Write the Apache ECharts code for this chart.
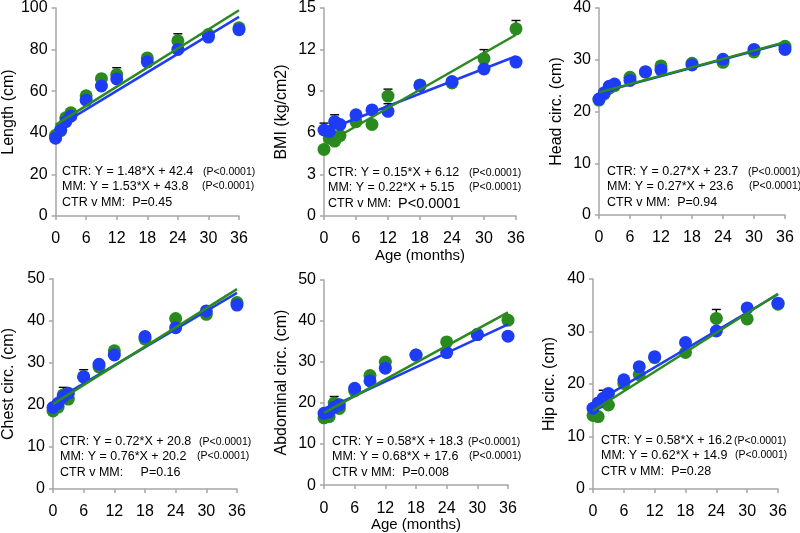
<!DOCTYPE html>
<html>
<head>
<meta charset="utf-8">
<script src="https://cdn.jsdelivr.net/npm/echarts@6/dist/echarts.min.js"></script>
<style>html,body{margin:0;padding:0;background:#fff}#main{width:800px;height:533px}</style>
</head>
<body>
<div id="main"></div>
<script>
var ages = [0, 1, 2, 3, 6, 9, 12, 18, 24, 30, 36];

// CTR = blue, MM = green
var lengthCtr = [37.4, 41.5, 45.3, 48.0, 55.7, 62.5, 65.9, 74.1, 80.1, 86.0, 89.6];
var lengthMm = [38.8, 41.0, 47.2, 49.6, 57.8, 66.0, 68.0, 76.0, 84.2, 87.2, 90.5];
var lengthCtrErr = [0.8, 0.8, 0.8, 0.8, 1, 1, 1.2, 1.2, 1.2, 1.4, 1.4];
var lengthMmErr = [0.8, 0.8, 0.8, 0.8, 1, 1.2, 3.3, 1.5, 3.4, 1.5, 1.5];
var lengthCtrFit = [[0, 42.4], [36, 95.7]];
var lengthMmFit = [[0, 43.8], [36, 98.9]];

var bmiCtr = [6.2, 6.1, 6.8, 6.6, 7.3, 7.65, 7.55, 9.4, 9.7, 10.6, 11.1];
var bmiMm = [4.8, 5.6, 5.4, 5.8, 6.8, 6.6, 8.65, 9.45, 9.6, 11.35, 13.5];
var bmiCtrErr = [0.5, 0.2, 0.5, 0.2, 0.2, 0.2, 0.55, 0.2, 0.2, 0.2, 0.2];
var bmiMmErr = [0.2, 0.2, 0.2, 0.5, 0.2, 0.2, 0.5, 0.2, 0.2, 0.65, 0.6];
var bmiCtrFit = [[0.5, 6.2], [36, 11.52]];
var bmiMmFit = [[1.5, 5.48], [36, 13.07]];

var headCtr = [22.4, 23.6, 24.9, 25.3, 26.0, 27.7, 28.0, 29.0, 30.1, 32.0, 32.0];
var headMm = [22.2, 23.4, 24.5, 25.0, 26.6, 27.6, 28.8, 29.3, 29.5, 31.5, 32.6];
var headCtrErr = [0.4, 0.4, 0.4, 0.4, 0.5, 0.5, 0.5, 0.5, 0.5, 0.5, 0.5];
var headMmErr = [0.4, 0.4, 0.4, 0.4, 0.5, 0.5, 0.8, 0.5, 0.5, 0.5, 0.5];
var headCtrFit = [[0, 23.6], [36, 33.3]];
var headMmFit = [[0, 23.7], [36, 33.4]];

var chestCtr = [19.4, 20.4, 22.0, 22.8, 26.7, 29.7, 31.9, 36.3, 38.4, 42.4, 43.8];
var chestMm = [18.6, 19.5, 22.4, 21.4, 26.7, 29.1, 32.9, 35.7, 40.6, 41.6, 44.4];
var chestCtrErr = [0.6, 0.6, 0.6, 0.6, 1.7, 0.8, 0.8, 0.8, 0.8, 0.8, 0.8];
var chestMmErr = [0.6, 0.6, 1.8, 0.6, 0.8, 0.8, 0.8, 0.8, 0.8, 0.8, 0.8];
var chestCtrFit = [[0, 20.8], [36, 46.7]];
var chestMmFit = [[0, 20.2], [36, 47.6]];

var abdCtr = [17.5, 17.8, 19.0, 19.6, 23.6, 25.4, 28.5, 31.7, 32.3, 36.7, 36.3];
var abdMm = [16.4, 16.7, 20.0, 18.7, 23.0, 26.7, 30.0, 31.7, 34.9, 36.7, 40.2];
var abdCtrErr = [0.6, 0.6, 0.6, 0.6, 0.8, 0.8, 0.8, 0.8, 0.8, 0.8, 0.8];
var abdMmErr = [0.6, 0.6, 1.6, 0.6, 0.8, 0.8, 0.8, 0.8, 0.8, 0.8, 0.8];
var abdCtrFit = [[0, 18.3], [36, 39.2]];
var abdMmFit = [[0, 17.6], [36, 42.1]];

var hipCtr = [15.4, 16.4, 17.3, 18.2, 20.8, 23.3, 25.2, 27.9, 30.1, 34.5, 35.4];
var hipMm = [14.0, 13.8, 16.6, 16.0, 20.1, 21.8, 25.0, 26.0, 32.5, 32.4, 35.2];
var hipCtrErr = [0.5, 0.5, 1.5, 0.5, 0.6, 0.6, 0.6, 0.6, 0.6, 0.6, 0.6];
var hipMmErr = [0.5, 0.5, 0.5, 0.5, 0.6, 0.6, 0.6, 0.6, 1.7, 0.6, 0.6];
var hipCtrFit = [[0, 16.2], [36, 37.1]];
var hipMmFit = [[0, 14.9], [36, 37.2]];

var blue = '#1e3cf5';
var green = '#2a8a1e';
var font = '"Liberation Sans", Arial, sans-serif';

var panels = [
    {name: 'Length (cm)', max: 100, step: 20, grid: [55, 5.5, 184, 210.5], gap: 37, age: false,
     ctr: lengthCtr, mm: lengthMm, ctrErr: lengthCtrErr, mmErr: lengthMmErr, ctrFit: lengthCtrFit, mmFit: lengthMmFit,
     eq: ['CTR: Y = 1.48*X + 42.4', 'MM: Y = 1.53*X + 43.8', 'CTR v MM:  P=0.45'], tx: 62, ty: 172, px: 203, px2: 202},
    {name: 'BMI (kg/cm2)', max: 15, step: 3, grid: [324, 5.5, 192, 210.5], gap: 34, age: true,
     ctr: bmiCtr, mm: bmiMm, ctrErr: bmiCtrErr, mmErr: bmiMmErr, ctrFit: bmiCtrFit, mmFit: bmiMmFit,
     eq: ['CTR: Y = 0.15*X + 6.12', 'MM: Y = 0.22*X + 5.15', 'CTR v MM:'], tx: 328, ty: 173, px: 469, px2: 469, big: 'P<0.0001'},
    {name: 'Head circ. (cm)', max: 40, step: 10, grid: [599, 5, 186, 210], gap: 34, age: false,
     ctr: headCtr, mm: headMm, ctrErr: headCtrErr, mmErr: headMmErr, ctrFit: headCtrFit, mmFit: headMmFit,
     eq: ['CTR: Y = 0.27*X + 23.7', 'MM: Y = 0.27*X + 23.6', 'CTR v MM:  P=0.94'], tx: 607, ty: 172, px: 748, px2: 749},
    {name: 'Chest circ. (cm)', max: 50, step: 10, grid: [52, 279, 185, 210], gap: 36, age: false,
     ctr: chestCtr, mm: chestMm, ctrErr: chestCtrErr, mmErr: chestMmErr, ctrFit: chestCtrFit, mmFit: chestMmFit,
     eq: ['CTR: Y = 0.72*X + 20.8', 'MM: Y = 0.76*X + 20.2', 'CTR v MM:     P=0.16'], tx: 60, ty: 442, px: 199, px2: 197},
    {name: 'Abdominal circ. (cm)', max: 50, step: 10, grid: [324, 280, 184, 210], gap: 34, age: true,
     ctr: abdCtr, mm: abdMm, ctrErr: abdCtrErr, mmErr: abdMmErr, ctrFit: abdCtrFit, mmFit: abdMmFit,
     eq: ['CTR: Y = 0.58*X + 18.3', 'MM: Y = 0.68*X + 17.6', 'CTR v MM:  P=0.008'], tx: 332, ty: 442, px: 468, px2: 469},
    {name: 'Hip circ. (cm)', max: 40, step: 10, grid: [593, 279, 185, 210], gap: 35, age: false,
     ctr: hipCtr, mm: hipMm, ctrErr: hipCtrErr, mmErr: hipMmErr, ctrFit: hipCtrFit, mmFit: hipMmFit,
     eq: ['CTR: Y = 0.58*X + 16.2', 'MM: Y = 0.62*X + 14.9', 'CTR v MM:  P=0.28'], tx: 601, ty: 441, px: 734, px2: 735}
];

function pairs(vals) {
    return ages.map(function (a, i) { return [a, vals[i]]; });
}
function triples(vals, errs) {
    return ages.map(function (a, i) { return [a, vals[i], errs[i]]; });
}

function renderErr(params, api) {
    var x = api.value(0), y = api.value(1), e = api.value(2);
    var p0 = api.coord([x, y]);
    var p1 = api.coord([x, y + e]);
    var st = {stroke: '#000', lineWidth: 1.4};
    return {
        type: 'group',
        children: [
            {type: 'line', shape: {x1: p0[0], y1: p0[1], x2: p1[0], y2: p1[1]}, style: st},
            {type: 'line', shape: {x1: p1[0] - 4.5, y1: p1[1], x2: p1[0] + 4.5, y2: p1[1]}, style: st}
        ]
    };
}

var grids = [], xAxes = [], yAxes = [], series = [], graphics = [];
var axisLine = {lineStyle: {color: '#a6a6a6', width: 1.5}};
var axisTick = {length: 4, lineStyle: {color: '#a6a6a6', width: 1.5}};

panels.forEach(function (p, k) {
    grids.push({left: p.grid[0], top: p.grid[1], width: p.grid[2], height: p.grid[3]});
    xAxes.push({
        type: 'value', gridIndex: k, min: 0, max: 36, interval: 6,
        name: p.age ? 'Age (months)' : '', nameLocation: 'middle', nameGap: 26,
        nameTextStyle: {fontFamily: font, fontSize: 15, color: '#000'},
        axisLine: axisLine, axisTick: axisTick, splitLine: {show: false},
        axisLabel: {fontFamily: font, fontSize: 16, color: '#000', margin: 15}
    });
    yAxes.push({
        type: 'value', gridIndex: k, min: 0, max: p.max, interval: p.step,
        name: p.name, nameLocation: 'middle', nameGap: p.gap,
        nameTextStyle: {fontFamily: font, fontSize: 16, color: '#000'},
        axisLine: {show: true, lineStyle: axisLine.lineStyle}, axisTick: {show: true, length: 4, lineStyle: axisTick.lineStyle},
        splitLine: {show: false},
        axisLabel: {fontFamily: font, fontSize: 16, color: '#000', margin: 8}
    });
    series.push(
        {type: 'custom', xAxisIndex: k, yAxisIndex: k, renderItem: renderErr, data: triples(p.mm, p.mmErr), encode: {x: 0, y: 1}, z: 1},
        {type: 'custom', xAxisIndex: k, yAxisIndex: k, renderItem: renderErr, data: triples(p.ctr, p.ctrErr), encode: {x: 0, y: 1}, z: 1},
        {name: 'MM', type: 'scatter', xAxisIndex: k, yAxisIndex: k, data: pairs(p.mm), symbolSize: 13, itemStyle: {color: green, opacity: 1}, z: 2},
        {name: 'CTR', type: 'scatter', xAxisIndex: k, yAxisIndex: k, data: pairs(p.ctr), symbolSize: 13, itemStyle: {color: blue, opacity: 1}, z: 3},
        {name: 'CTR', type: 'line', xAxisIndex: k, yAxisIndex: k, data: p.ctrFit, showSymbol: false, lineStyle: {color: blue, width: 2.5}, z: 4},
        {name: 'MM', type: 'line', xAxisIndex: k, yAxisIndex: k, data: p.mmFit, showSymbol: false, lineStyle: {color: green, width: 2.5}, z: 5}
    );
    var lines = [[p.eq[0], p.tx, p.ty], [p.eq[1], p.tx, p.ty + 14.5], [p.eq[2], p.tx, p.ty + 31]];
    lines.forEach(function (l) {
        graphics.push({type: 'text', x: l[1], y: l[2], style: {text: l[0], font: '12.5px ' + font, fill: '#000', verticalAlign: 'middle'}});
    });
    graphics.push({type: 'text', x: p.px, y: p.ty, style: {text: '(P<0.0001)', font: '10.5px ' + font, fill: '#000', verticalAlign: 'middle'}});
    graphics.push({type: 'text', x: p.px2, y: p.ty + 14.5, style: {text: '(P<0.0001)', font: '10.5px ' + font, fill: '#000', verticalAlign: 'middle'}});
    if (p.big) {
        graphics.push({type: 'text', x: p.tx + 70, y: p.ty + 31, style: {text: p.big, font: '14.5px ' + font, fill: '#000', verticalAlign: 'middle'}});
    }
});

var myChart = echarts.init(document.getElementById('main'));
myChart.setOption({
    animation: false,
    backgroundColor: '#fff',
    grid: grids,
    xAxis: xAxes,
    yAxis: yAxes,
    series: series,
    graphic: graphics
});
</script>
</body>
</html>
